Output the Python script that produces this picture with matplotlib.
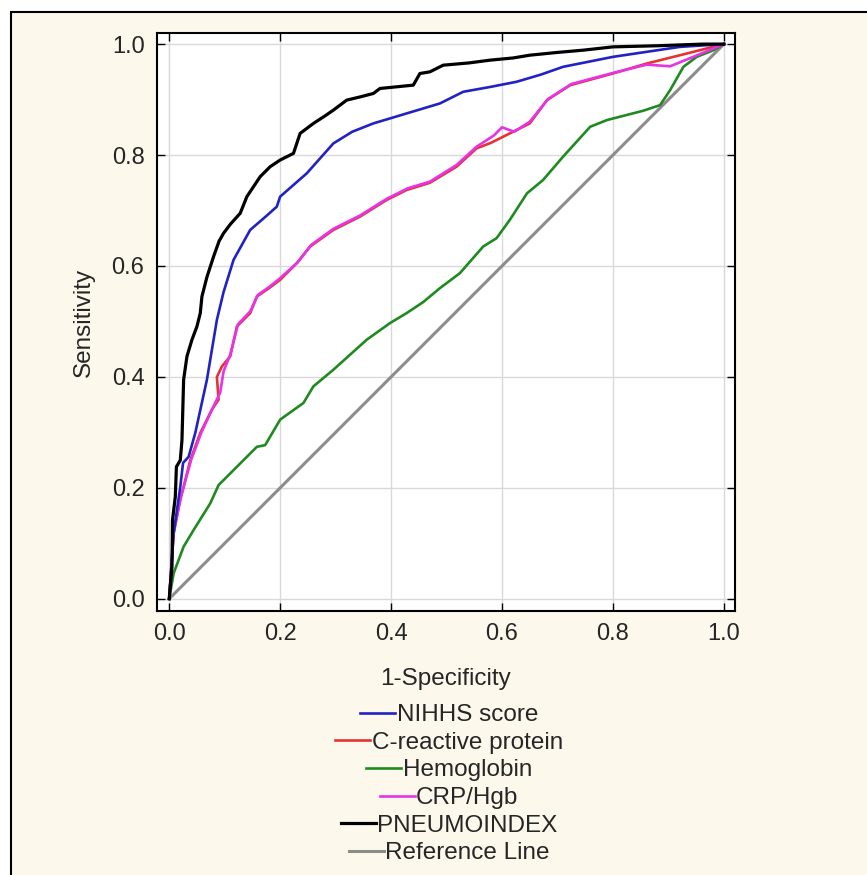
import matplotlib
matplotlib.use("Agg")
import matplotlib.pyplot as plt
from matplotlib.patches import Rectangle

plt.rcParams['font.family'] = ['Liberation Sans', 'DejaVu Sans']

# ROC curves (x = 1-specificity, y = sensitivity)
nihhs_x = [0, .008, .020, .025, .035, .047, .068, .086, .098, .116,
           .146, .175, .194, .200, .248, .296, .330, .368, .428, .488,
           .530, .580, .626, .670, .710, .800, .921, 1.0]
nihhs_y = [0, .118, .202, .245, .256, .299, .395, .503, .553, .611,
           .665, .690, .707, .725, .767, .821, .842, .857, .875, .893,
           .914, .923, .932, .945, .959, .977, .995, 1.0]

crp_x = [0, .008, .020, .038, .056, .077, .089, .086, .095, .110,
         .122, .146, .158, .180, .200, .230, .254, .296, .344, .392,
         .428, .470, .518, .554, .580, .614, .650, .681, .723, .800,
         .861, .933, 1.0]
crp_y = [0, .118, .178, .250, .299, .341, .359, .400, .419, .437,
         .491, .515, .545, .560, .575, .605, .635, .665, .689, .719,
         .737, .750, .779, .812, .822, .839, .857, .899, .926, .947,
         .965, .983, 1.0]

hgb_x = [0, .008, .026, .044, .074, .089, .122, .158, .173, .200,
         .242, .260, .296, .356, .398, .428, .458, .488, .524, .566,
         .590, .614, .645, .674, .710, .759, .789, .855, .885, .903,
         .927, .951, .981, 1.0]
hgb_y = [0, .046, .094, .124, .172, .205, .238, .274, .277, .323,
         .353, .383, .413, .467, .497, .515, .535, .560, .587, .635,
         .650, .683, .731, .755, .797, .851, .863, .880, .890, .917,
         .959, .977, .989, 1.0]

ratio_x = [0, .008, .020, .040, .058, .078, .092, .098, .110, .124,
           .146, .160, .180, .200, .232, .256, .296, .344, .392, .430,
           .470, .518, .554, .585, .600, .622, .650, .683, .725, .800,
           .861, .903, .940, 1.0]
ratio_y = [0, .120, .180, .252, .300, .343, .372, .410, .440, .495,
           .518, .548, .562, .578, .607, .638, .667, .691, .721, .740,
           .752, .782, .815, .835, .850, .842, .860, .901, .928, .948,
           .963, .960, .975, 1.0]

pneumo_x = [0, .005, .006, .011, .013, .020, .023, .026, .032, .041,
            .050, .056, .059, .068, .080, .090, .098, .110, .128, .140,
            .150, .164, .182, .200, .212, .224, .236, .248, .260, .280,
            .296, .320, .345, .368, .380, .410, .440, .452, .470, .494,
            .540, .578, .620, .650, .700, .746, .800, .880, .962, 1.0]
pneumo_y = [0, .058, .142, .184, .238, .250, .286, .395, .437, .467,
            .491, .515, .545, .580, .617, .645, .659, .675, .695, .725,
            .740, .761, .779, .791, .797, .803, .839, .848, .857, .870,
            .881, .899, .905, .911, .920, .923, .926, .947, .950, .962,
            .966, .971, .975, .980, .985, .989, .995, .997, 1.0, 1.0]

ref_x = [0, 1]
ref_y = [0, 1]

labels = ['NIHHS score', 'C-reactive protein', 'Hemoglobin', 'CRP/Hgb',
          'PNEUMOINDEX', 'Reference Line']
ticks = [0.0, 0.2, 0.4, 0.6, 0.8, 1.0]

W, H = 867, 875
fig = plt.figure(figsize=(W / 100, H / 100), dpi=100, facecolor='white')

# cream panel with black frame (cropped at right/bottom)
fig.patches.append(Rectangle((11 / W, -0.05), 1.0, 1 - 11.5 / H + 0.05,
                             transform=fig.transFigure, facecolor='#fdf8ec',
                             edgecolor='black', linewidth=1.5, zorder=-10))

ax = fig.add_axes([157 / W, 1 - 611 / H, 578 / W, 578 / H])
ax.set_facecolor('white')
ax.set_zorder(1)

lw = 1.9
l_ref, = ax.plot(ref_x, ref_y, color='#8c8c8c', lw=2.2)
l_hgb, = ax.plot(hgb_x, hgb_y, color='#1f8a1f', lw=lw)
l_crp, = ax.plot(crp_x, crp_y, color='#e53333', lw=lw)
l_ratio, = ax.plot(ratio_x, ratio_y, color='#e633e6', lw=lw)
l_nihhs, = ax.plot(nihhs_x, nihhs_y, color='#2222c4', lw=lw)
l_pneumo, = ax.plot(pneumo_x, pneumo_y, color='black', lw=2.3)

ax.set_xlim(-0.022, 1.02)
ax.set_ylim(-0.022, 1.02)
ax.set_xticks(ticks)
ax.set_yticks(ticks)
ax.set_xticklabels(['%.1f' % t for t in ticks])
ax.set_yticklabels(['%.1f' % t for t in ticks])
ax.grid(True, color='#d9d9d9', lw=1.0)
ax.set_axisbelow(True)
ax.tick_params(direction='in', length=6, width=1, top=True, right=True,
               labelsize=17, labelcolor='#262626', pad=9)
for s in ax.spines.values():
    s.set_linewidth(1.5)

ax.set_xlabel('1-Specificity', fontsize=17.5, color='#262626', labelpad=16)
ax.set_ylabel('Sensitivity', fontsize=17.5, color='#262626', labelpad=12)

# one centred row per series, like the original legend
rows_y = [715, 743, 770, 798, 826, 853]
handles = [l_nihhs, l_crp, l_hgb, l_ratio, l_pneumo, l_ref]
for h, lab, ry in zip(handles, labels, rows_y):
    fig.legend([h], [lab], loc='center', bbox_to_anchor=(449 / W, 1 - ry / H),
               bbox_transform=fig.transFigure, frameon=False, borderpad=0,
               borderaxespad=0, handlelength=1.45, handletextpad=0.05,
               fontsize=17.5, labelcolor='#262626')

fig.savefig('out.png', dpi=100, facecolor=fig.get_facecolor())
